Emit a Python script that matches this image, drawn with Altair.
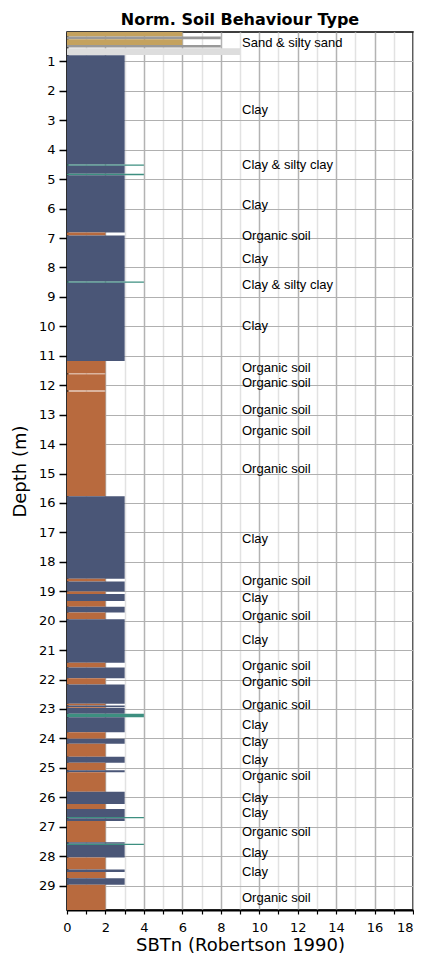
import altair as alt
import pandas as pd

# ---- data ----
layer_top = [0.00, 0.15, 0.25, 0.44, 0.55, 0.79, 4.50, 4.54, 4.82, 4.87, 6.81, 6.91, 8.48, 8.52,
             11.18, 11.63, 12.21, 15.77, 18.58, 18.67, 19.01, 19.09, 19.33, 19.53, 19.72, 19.95,
             21.43, 21.59, 21.96, 22.17, 22.82, 22.88, 22.94, 22.97, 23.16, 23.28, 23.79, 24.01,
             24.18, 24.62, 24.83, 25.08, 25.15, 25.81, 26.23, 26.40, 26.67, 26.71, 26.81, 27.53,
             27.58, 27.62, 28.05, 28.45, 28.54, 28.75, 28.97]
layer_bottom = [0.15, 0.25, 0.44, 0.53, 0.78, 4.50, 4.54, 4.82, 4.87, 6.81, 6.91, 8.48, 8.52, 11.18,
                11.60, 12.18, 15.77, 18.58, 18.67, 19.01, 19.09, 19.33, 19.53, 19.72, 19.95, 21.43,
                21.59, 21.96, 22.17, 22.82, 22.88, 22.94, 22.97, 23.16, 23.28, 23.79, 24.01, 24.18,
                24.62, 24.83, 25.08, 25.15, 25.81, 26.23, 26.40, 26.67, 26.71, 26.81, 27.53, 27.58,
                27.62, 28.05, 28.45, 28.54, 28.75, 28.97, 29.83]
layer_sbtn = [6, 8, 6, 8, 9, 3, 4, 3, 4, 3, 2, 3, 4, 3,
              2, 2, 2, 3, 2, 3, 2, 3, 2, 3, 2, 3,
              2, 3, 2, 3, 2, 3, 2, 3, 4, 3, 2, 3,
              2, 3, 2, 3, 2, 3, 2, 3, 4, 3, 2, 3,
              4, 3, 2, 3, 2, 3, 2]

label_depth = [0.39, 2.65, 4.52, 5.87, 6.92, 7.71, 8.58, 9.98, 11.41, 11.92, 12.85, 13.56, 14.85,
               17.23, 18.64, 19.23, 19.83, 20.67, 21.54, 22.08, 22.88, 23.56, 24.12, 24.74, 25.27,
               26.02, 26.52, 27.19, 27.88, 28.53, 29.41]
label_text = ["Sand & silty sand", "Clay", "Clay & silty clay", "Clay", "Organic soil", "Clay",
              "Clay & silty clay", "Clay", "Organic soil", "Organic soil", "Organic soil",
              "Organic soil", "Organic soil", "Clay", "Organic soil", "Clay", "Organic soil", "Clay",
              "Organic soil", "Organic soil", "Organic soil", "Clay", "Clay", "Clay", "Organic soil",
              "Clay", "Clay", "Organic soil", "Clay", "Clay", "Organic soil"]

sbtn_classes = [2, 3, 4, 6, 8, 9]
sbtn_colors = ["#b86a3e", "#4a5677", "#3d8f80", "#c4a25e", "#999999", "#dddddd"]

x_ticks = list(range(0, 19))
y_ticks = list(range(1, 30))
x_domain = [0, 18]
y_domain = [0, 29.83]
label_x = 9

layers = pd.DataFrame({"top": layer_top, "bottom": layer_bottom, "sbtn": layer_sbtn})
layers["zero"] = 0
labels = pd.DataFrame({"depth": label_depth, "label": label_text})

x_scale = alt.Scale(domain=x_domain, nice=False, zero=False)
y_scale = alt.Scale(domain=y_domain, reverse=True, nice=False, zero=False)

axis_font = "DejaVu Sans"

x_axis = alt.Axis(
    values=x_ticks,
    labelExpr="datum.value % 2 == 0 ? datum.label : ''",
    labelOverlap=False,
    labelFlush=False,
    labelAlign=alt.condition("datum.value == 18", alt.value("right"), alt.value("center")),
    grid=True,
    gridColor=alt.condition("datum.value % 2 == 0", alt.value("#b3b3b3"), alt.value("#e2e2e2")),
    gridWidth=1.5,
    tickColor="black",
    tickSize=4,
    tickWidth=1.2,
    domainColor="black",
    domainWidth=2,
    labelFont=axis_font,
    labelFontSize=13,
    labelColor="black",
    labelPadding=7,
    title="SBTn (Robertson 1990)",
    titleFont=axis_font,
    titleFontSize=18,
    titleFontWeight="normal",
    titleColor="black",
    titlePadding=2,
)

y_axis = alt.Axis(
    values=y_ticks,
    labelOverlap=False,
    labelFlush=False,
    grid=True,
    gridColor="#b0b0b0",
    gridWidth=1,
    tickColor="black",
    tickSize=8,
    tickWidth=1.5,
    domainColor="black",
    domainWidth=2,
    labelFont=axis_font,
    labelFontSize=13,
    labelColor="black",
    labelPadding=4,
    title="Depth (m)",
    titleFont=axis_font,
    titleFontSize=18,
    titleFontWeight="normal",
    titleColor="black",
    titlePadding=9,
)

bars = alt.Chart(layers).mark_rect().encode(
    x=alt.X("zero:Q", scale=x_scale, axis=x_axis),
    x2="sbtn:Q",
    y=alt.Y("top:Q", scale=y_scale, axis=y_axis),
    y2="bottom:Q",
    color=alt.Color("sbtn:O", scale=alt.Scale(domain=sbtn_classes, range=sbtn_colors), legend=None),
)

texts = alt.Chart(labels).mark_text(
    align="left", baseline="middle", font="Liberation Sans", fontSize=13, dx=2, color="black"
).encode(
    x=alt.X(datum=label_x, type="quantitative", scale=x_scale, axis=x_axis),
    y=alt.Y("depth:Q", scale=y_scale, axis=y_axis),
    text="label:N",
)

chart = alt.layer(bars, texts).properties(
    width=346,
    height=878,
    padding={"left": 3, "top": 4, "right": 0, "bottom": 0},
    title=alt.TitleParams(
        "Norm. Soil Behaviour Type",
        font=axis_font,
        fontSize=16,
        fontWeight="bold",
        anchor="middle",
        color="black",
        offset=4,
    ),
).configure_view(stroke="black", strokeWidth=1.5)

chart.save("out.html", embed_options={"renderer": "svg", "actions": False})
